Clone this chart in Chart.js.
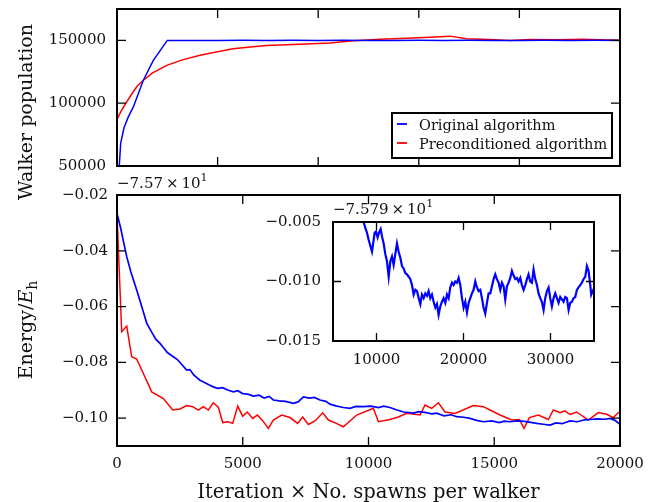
<!DOCTYPE html>
<html><head><meta charset="utf-8">
<script src="https://cdn.jsdelivr.net/npm/chart.js@4"></script>
<style>
html,body{margin:0;padding:0;background:#fff;}
#wrap{position:relative;width:665px;height:502px;background:#fff;}
canvas{position:absolute;left:0;top:0;}
</style></head><body>
<div id="wrap">
<canvas id="cTop" width="665" height="502"></canvas>
<canvas id="cBot" width="665" height="502"></canvas>
<canvas id="cIns" width="665" height="502"></canvas>
</div>
<script>
// ---------- DATA ----------
const seriesLabels = ['Original algorithm', 'Preconditioned algorithm'];

// Top panel: walker population
const popIterOrig = [90, 146, 278, 450, 650, 1046, 1444, 2000, 3000, 4000, 5000, 6000, 7000, 8000, 9000, 10000, 11000, 12000, 13000, 14000, 15000, 16000, 17000, 18000, 19000, 20000];
const popOrig = [50240, 68020, 80400, 89130, 97060, 118250, 134130, 150000, 150000, 149900, 150100, 149950, 150050, 149900, 150100, 150000, 149950, 150050, 149900, 150100, 150000, 149950, 150050, 149900, 150100, 150000];
const popIterPre = [0, 200, 386, 600, 800, 1046, 1400, 1976, 2600, 3300, 4000, 4615, 5300, 5950, 7000, 8470, 9270, 10460, 11500, 12450, 13240, 13900, 14800, 15630, 16420, 17500, 18500, 19200, 20000];
const popPre = [87300, 95000, 101000, 107700, 113500, 118250, 124000, 130160, 134500, 138100, 141000, 143400, 144800, 146000, 146800, 147900, 149500, 151000, 151800, 152600, 153400, 151300, 150800, 150000, 150800, 150600, 150900, 150500, 150200];
const popTicksY = [50000, 100000, 150000];
const popTicksX = [0, 4000, 8000, 12000, 16000, 20000];

// Bottom panel: energy relative to offset
const energyOffset = -75.7;
const enIterOrig = [0,150,300,386,550,783,950,1181,1400,1550,1710,1850,2000,2240,2400,2550,2771,2900,3050,3300,3500,3650,3830,4000,4200,4400,4626,4800,5000,5200,5420,5650,5850,6050,6216,6450,6700,7010,7200,7410,7650,7850,8072,8300,8470,8700,9000,9265,9500,9795,10100,10400,10600,10855,11100,11400,11783,12000,12300,12500,12711,13000,13300,13500,13770,14000,14300,14565,14900,15200,15400,15626,15900,16200,16450,16687,16950,17217,17450,17700,18012,18300,18600,18807,19100,19400,19603,19800,20000];
const enOrig = [-0.0266,-0.0320,-0.0385,-0.0421,-0.0475,-0.0541,-0.0590,-0.0660,-0.0695,-0.0718,-0.0732,-0.0748,-0.0765,-0.0780,-0.0790,-0.0805,-0.0828,-0.0826,-0.0845,-0.0864,-0.0873,-0.0880,-0.0888,-0.0893,-0.0891,-0.0899,-0.0906,-0.0902,-0.0912,-0.0914,-0.0921,-0.0918,-0.0928,-0.0922,-0.0935,-0.0938,-0.0940,-0.0947,-0.0942,-0.0924,-0.0928,-0.0926,-0.0935,-0.0940,-0.0950,-0.0956,-0.0962,-0.0965,-0.0958,-0.0959,-0.0957,-0.0962,-0.0957,-0.0962,-0.0970,-0.0978,-0.0982,-0.0977,-0.0980,-0.0985,-0.0982,-0.0992,-0.0988,-0.0995,-0.0997,-0.1000,-0.1008,-0.1013,-0.1010,-0.1016,-0.1011,-0.1013,-0.1010,-0.1012,-0.1015,-0.1019,-0.1022,-0.1025,-0.1017,-0.1020,-0.1010,-0.1013,-0.1006,-0.1005,-0.1003,-0.1004,-0.1001,-0.1008,-0.1022];
const enIterPre = [0,186,386,585,783,1048,1380,1843,2214,2505,2771,3008,3234,3433,3632,3830,4029,4202,4401,4600,4800,4997,5180,5395,5580,5800,6018,6216,6548,6880,7184,7383,7608,7873,8180,8405,8700,9000,9530,10193,10393,10855,11187,11520,12049,12247,12512,12777,13042,13440,14168,14566,14831,15229,15692,15997,16183,16396,16754,17151,17350,17614,17813,18012,18277,18741,19139,19470,19735,19934,20000];
const enPre = [-0.0270,-0.0690,-0.0670,-0.0780,-0.0788,-0.0840,-0.0906,-0.0930,-0.0971,-0.0967,-0.0955,-0.0959,-0.0971,-0.0959,-0.0971,-0.0945,-0.0961,-0.1016,-0.1013,-0.1019,-0.0957,-0.0993,-0.0978,-0.1001,-0.0989,-0.1010,-0.1037,-0.1007,-0.0989,-0.0998,-0.1019,-0.0996,-0.1023,-0.1010,-0.0981,-0.1007,-0.1018,-0.1031,-0.0989,-0.0965,-0.1013,-0.1005,-0.0996,-0.0983,-0.0989,-0.0953,-0.0965,-0.0945,-0.0978,-0.0983,-0.0955,-0.0959,-0.0971,-0.0989,-0.1007,-0.1005,-0.1037,-0.0998,-0.0989,-0.1005,-0.0971,-0.0981,-0.0974,-0.0987,-0.0978,-0.1007,-0.0980,-0.0986,-0.0998,-0.0980,-0.0978];
const enTicksY = [-0.10, -0.08, -0.06, -0.04, -0.02];
const enTicksX = [0, 5000, 10000, 15000, 20000];

// Inset: long run of original algorithm, relative to offset
const insetOffset = -75.79;
const insIter = [8000,8520,8715,8907,9098,9290,9480,9600,9787,9940,10130,10285,10476,10630,10820,11013,11205,11400,11590,11780,11970,12160,12355,12545,12740,12930,13120,13310,13500,13700,13885,14080,14270,14460,14650,14850,15040,15225,15420,15610,15800,15990,16180,16375,16570,16760,16950,17140,17330,17525,17715,17910,18100,18290,18480,18675,18865,19055,19250,19440,19630,19825,20015,20205,20400,20590,20780,20970,21160,21355,21545,21735,21930,22120,22310,22500,22695,22885,23080,23270,23460,23650,23840,24035,24225,24420,24610,24800,24990,25185,25375,25565,25760,25950,26140,26330,26525,26715,26910,27100,27290,27480,27670,27865,28055,28250,28440,28630,28820,29010,29205,29395,29590,29780,29970,30160,30355,30545,30740,30930,31120,31315,31500,31700,31890,32080,32270,32460,32650,32845,33035,33225,33420,33610,33800,33995,34185,34375,34570,34685,34840,35000];
const insEn = [-0.0035,-0.0050,-0.0055,-0.0059,-0.0065,-0.0070,-0.0075,-0.0069,-0.0059,-0.0058,-0.0063,-0.0059,-0.0056,-0.0062,-0.0068,-0.0077,-0.0083,-0.0096,-0.0083,-0.0079,-0.0086,-0.0077,-0.0068,-0.0075,-0.0080,-0.0087,-0.0089,-0.0093,-0.0094,-0.0096,-0.0098,-0.0103,-0.0111,-0.0107,-0.0108,-0.0114,-0.0119,-0.0111,-0.0114,-0.0110,-0.0112,-0.0108,-0.0114,-0.0111,-0.0117,-0.0122,-0.0119,-0.0128,-0.0121,-0.0117,-0.0114,-0.0118,-0.0111,-0.0114,-0.0105,-0.0101,-0.0103,-0.0100,-0.0101,-0.0097,-0.0103,-0.0114,-0.0122,-0.0117,-0.0126,-0.0118,-0.0114,-0.0110,-0.0107,-0.0100,-0.0105,-0.0108,-0.0107,-0.0114,-0.0122,-0.0127,-0.0118,-0.0110,-0.0110,-0.0104,-0.0098,-0.0094,-0.0098,-0.0101,-0.0107,-0.0101,-0.0104,-0.0115,-0.0104,-0.0101,-0.0097,-0.0091,-0.0095,-0.0098,-0.0097,-0.0100,-0.0097,-0.0103,-0.0107,-0.0103,-0.0098,-0.0094,-0.0100,-0.0101,-0.0090,-0.0098,-0.0103,-0.0110,-0.0114,-0.0117,-0.0124,-0.0114,-0.0108,-0.0105,-0.0114,-0.0121,-0.0114,-0.0110,-0.0114,-0.0118,-0.0113,-0.0115,-0.0117,-0.0113,-0.0114,-0.0124,-0.0118,-0.0117,-0.0114,-0.0113,-0.0107,-0.0105,-0.0103,-0.0101,-0.0098,-0.0096,-0.0087,-0.0091,-0.0103,-0.0111,-0.0108,-0.0106];
const insTicksY = [-0.015, -0.010, -0.005];
const insTicksX = [10000, 20000, 30000];

// ---------- HELPERS ----------
const FONT = "'DejaVu Serif', serif";
const BLUE = '#0000ff', RED = '#ff0000', INK = '#111111';
const minus = s => s.replace('-', '\u2212');
const pts = (xs, ys) => xs.map((x, i) => ({x: x, y: ys[i]}));

function axis(min, max, ticks, fmt, horizontal, showLabels, pad, size) {
  return {
    type: 'linear', min: min, max: max,
    grid: {display: false, drawTicks: false},
    border: {display: false},
    ticks: {display: showLabels, autoSkip: false, maxRotation: 0, minRotation: 0, padding: pad,
            color: INK, font: {family: FONT, size: 15}, callback: v => fmt(v)},
    afterBuildTicks: s => { s.ticks = ticks.map(v => ({value: v})); },
    afterFit: s => {
      if (horizontal) s.height = size; else s.width = size;
      s.paddingLeft = 0; s.paddingRight = 0; s.paddingTop = 0; s.paddingBottom = 0;
    }
  };
}

function richText(ctx, parts, x, y, align, angle) {
  ctx.save();
  ctx.translate(x, y);
  ctx.rotate(angle || 0);
  let w = 0;
  parts.forEach(p => { ctx.font = p.font; p.w = ctx.measureText(p.t).width; w += p.w; });
  let cx = align === 'center' ? -w / 2 : (align === 'right' ? -w : 0);
  ctx.textBaseline = 'alphabetic';
  ctx.textAlign = 'left';
  ctx.fillStyle = INK;
  parts.forEach(p => { ctx.font = p.font; ctx.fillText(p.t, cx, p.dy || 0); cx += p.w; });
  ctx.restore();
}

function framePlugin(fill, tickLen) {
  return {
    id: 'frame',
    beforeDraw(chart) {
      if (!fill) return;
      const a = chart.chartArea, ctx = chart.ctx;
      ctx.save(); ctx.fillStyle = '#fff';
      ctx.fillRect(a.left, a.top, a.right - a.left, a.bottom - a.top);
      ctx.restore();
    },
    afterDraw(chart) {
      const ctx = chart.ctx, a = chart.chartArea, xs = chart.scales.x, ys = chart.scales.y;
      ctx.save();
      ctx.strokeStyle = '#000';
      ctx.lineWidth = 1.3;
      ctx.beginPath();
      xs.ticks.forEach(t => {
        const p = xs.getPixelForValue(t.value);
        ctx.moveTo(p, a.bottom); ctx.lineTo(p, a.bottom - tickLen);
        ctx.moveTo(p, a.top); ctx.lineTo(p, a.top + tickLen);
      });
      ys.ticks.forEach(t => {
        const p = ys.getPixelForValue(t.value);
        ctx.moveTo(a.left, p); ctx.lineTo(a.left + tickLen, p);
        ctx.moveTo(a.right, p); ctx.lineTo(a.right - tickLen, p);
      });
      ctx.stroke();
      ctx.lineWidth = 2;
      ctx.strokeRect(a.left, a.top, a.right - a.left, a.bottom - a.top);
      ctx.restore();
    }
  };
}

function ds(label, data, color, w) {
  return {label: label, data: data, borderColor: color, backgroundColor: color, borderWidth: w || 1.5,
          pointRadius: 0, fill: false, tension: 0};
}

function baseOptions(padding, xAxis, yAxis) {
  return {
    responsive: false, animation: false, devicePixelRatio: 1, events: [],
    layout: {padding: padding},
    plugins: {legend: {display: false}, tooltip: {enabled: false}},
    scales: {x: xAxis, y: yAxis}
  };
}

function offsetParts(v, digits) {
  return [{t: minus(String(+(v / 10).toFixed(digits))) + '\u2009\u00d7\u200910', font: '15px ' + FONT},
          {t: '1', font: '11px ' + FONT, dy: -7}];
}

// ---------- TOP CHART ----------
new Chart(document.getElementById('cTop'), {
  type: 'line',
  data: {datasets: [
    ds(seriesLabels[0], pts(popIterOrig, popOrig), BLUE),
    ds(seriesLabels[1], pts(popIterPre, popPre), RED)
  ]},
  options: baseOptions({left: 0, top: 9, right: 45, bottom: 0},
    axis(0, 20000, popTicksX, v => String(v), true, false, 6, 336),
    axis(50000, 175000, popTicksY, v => String(v), false, true, 11, 117)),
  plugins: [framePlugin(false, 9), {
    id: 'topExtras',
    afterDraw(chart) {
      const ctx = chart.ctx;
      richText(ctx, [{t: 'Walker population', font: '19px ' + FONT}], 32, 112, 'center', -Math.PI / 2);
      // legend
      ctx.save();
      ctx.fillStyle = '#fff';
      ctx.fillRect(392, 113, 220, 45);
      ctx.strokeStyle = '#000'; ctx.lineWidth = 2;
      ctx.strokeRect(392, 113, 220, 45);
      const rows = [124, 143];
      chart.data.datasets.forEach((d, i) => {
        ctx.strokeStyle = d.borderColor; ctx.lineWidth = 1.8;
        ctx.beginPath(); ctx.moveTo(397, rows[i]); ctx.lineTo(407, rows[i]); ctx.stroke();
        richText(ctx, [{t: d.label, font: '14.5px ' + FONT}], 419, rows[i] + 5.5, 'left', 0);
      });
      ctx.restore();
    }
  }]
});

// ---------- BOTTOM CHART ----------
new Chart(document.getElementById('cBot'), {
  type: 'line',
  data: {datasets: [
    ds(seriesLabels[0], pts(enIterOrig, enOrig), BLUE, 1.7),
    ds(seriesLabels[1], pts(enIterPre, enPre), RED)
  ]},
  options: baseOptions({left: 0, top: 195, right: 45, bottom: 0},
    axis(0, 20000, enTicksX, v => String(v), true, true, 9, 56),
    axis(-0.11, -0.02, enTicksY, v => minus(v.toFixed(2)), false, true, 9, 117)),
  plugins: [framePlugin(false, 9), {
    id: 'botExtras',
    afterDraw(chart) {
      const ctx = chart.ctx;
      const f = '19px ' + FONT;
      richText(ctx, [{t: 'Energy/', font: f}, {t: 'E', font: 'italic ' + f}, {t: 'h', font: '14px ' + FONT, dy: 5}],
        32, 330, 'center', -Math.PI / 2);
      richText(ctx, [{t: 'Iteration \u00d7 No. spawns per walker', font: '19.5px ' + FONT}], 368.5, 498, 'center', 0);
      richText(ctx, offsetParts(energyOffset, 3), 117, 188, 'left', 0);
    }
  }]
});

// ---------- INSET ----------
new Chart(document.getElementById('cIns'), {
  type: 'line',
  data: {datasets: [ds(seriesLabels[0], pts(insIter, insEn), BLUE, 2.2)]},
  options: baseOptions({left: 0, top: 222, right: 71, bottom: 0},
    axis(5000, 35000, insTicksX, v => String(v), true, true, 10, 161),
    axis(-0.015, -0.005, insTicksY, v => minus(v.toFixed(3)), false, true, 12, 333)),
  plugins: [framePlugin(true, 8), {
    id: 'insExtras',
    afterDraw(chart) {
      richText(chart.ctx, offsetParts(insetOffset, 4), 333, 214, 'left', 0);
    }
  }]
});
</script>
</body></html>
